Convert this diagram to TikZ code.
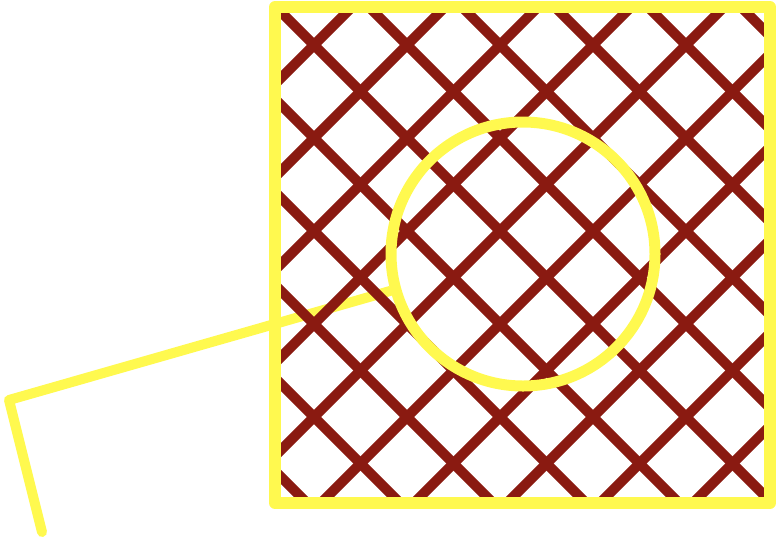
\documentclass[tikz,border=0pt]{standalone}
\usepackage{tikz}
\usetikzlibrary{calc}
\definecolor{hatchred}{HTML}{8A1A11}
\definecolor{rimyellow}{HTML}{FFF94F}
\tikzset{
  hatch/.style={draw=hatchred, line width=10pt},
  rim/.style={draw=rimyellow, line width=12pt, line join=round},
  ring/.style={draw=rimyellow, line width=11pt},
  handle/.style={draw=rimyellow, line width=10pt, line cap=round, line join=round}
}

\begin{document}
\begin{tikzpicture}[x=1pt, y=-1pt]
  \useasboundingbox (0,0) rectangle (776,539);
  \coordinate (tl) at (275,7);
  \coordinate (br) at (770,503);
  \coordinate (lens) at (523,254);
  \coordinate (tip) at (390,291);
  \coordinate (bend) at (9,400);
  \coordinate (foot) at (42,532);
  % handle, under the mesh
  \draw[handle] (tip) -- (bend) -- (foot);
  % mesh
  \begin{scope}
    \clip (tl) rectangle (br);
    \foreach \k in {-4,...,8} {
      \draw[hatch] ({83+93*\k-50},-50) -- ({83+93*\k+600},600);
    }
    \foreach \k in {2,...,13} {
      \draw[hatch] ({80+93*\k+50},-50) -- ({80+93*\k-600},600);
    }
  \end{scope}
  \draw[ring] (lens) circle[radius=132];
  \draw[rim] (tl) rectangle (br);
\end{tikzpicture}
\end{document}
